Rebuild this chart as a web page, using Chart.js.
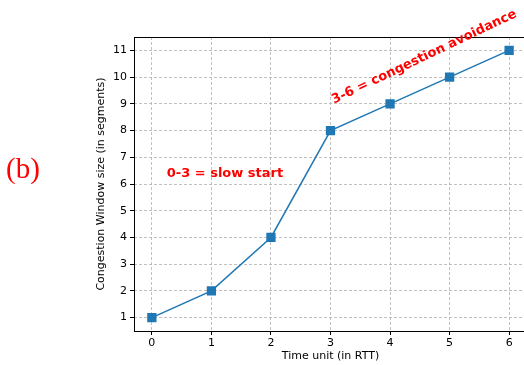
<!DOCTYPE html>
<html>
<head>
<meta charset="utf-8">
<script src="https://cdn.jsdelivr.net/npm/chart.js@4"></script>
<style>
  html { margin: 0; padding: 0; overflow: hidden; width: 524px; height: 365px; }
  body { margin: 0; padding: 0; background: #fff; width: 534px; height: 365px; }
  canvas { display: block; }
</style>
</head>
<body>
<canvas id="cwnd" width="534" height="365"></canvas>
<script>
// time in RTT vs congestion window
const rtt = [0, 1, 2, 3, 4, 5, 6];
const cwnd = [1, 2, 4, 8, 9, 10, 11];
const xTicks = [0, 1, 2, 3, 4, 5, 6];
const yTicks = [1, 2, 3, 4, 5, 6, 7, 8, 9, 10, 11];

const FONT = 'DejaVu Sans';

// red notes + the (b) label, drawn on top of the plot
const notesPlugin = {
    id: 'notes',
    afterDraw(chart) {
        const ctx = chart.ctx;
        const x = chart.scales.x, y = chart.scales.y;
        const a = chart.chartArea;

        // frame
        ctx.save();
        ctx.strokeStyle = '#000';
        ctx.lineWidth = 1;
        ctx.strokeRect(a.left + 0.5, a.top + 0.5, a.right - a.left, a.bottom - a.top);
        ctx.restore();

        ctx.save();
        ctx.fillStyle = '#ff0000';
        ctx.font = 'bold 13px "' + FONT + '"';
        ctx.textBaseline = 'alphabetic';
        ctx.fillText('0-3 = slow start', x.getPixelForValue(0.25), y.getPixelForValue(6.25));

        ctx.translate(x.getPixelForValue(3.06), y.getPixelForValue(9.0));
        ctx.rotate(-25.5 * Math.PI / 180);
        ctx.fillText('3-6 = congestion avoidance', 0, 0);
        ctx.restore();

        ctx.save();
        ctx.fillStyle = '#ff0000';
        ctx.font = '29px "Liberation Serif"';
        ctx.textBaseline = 'middle';
        ctx.fillText('(b)', 6, 170);
        ctx.restore();
    }
};

new Chart(document.getElementById('cwnd'), {
    type: 'line',
    data: {
        labels: rtt,
        datasets: [{
            data: rtt.map((t, i) => ({ x: t, y: cwnd[i] })),
            borderColor: '#1f77b4',
            backgroundColor: '#1f77b4',
            borderWidth: 1.5,
            pointStyle: 'rect',
            pointRadius: 5.5,
            pointHoverRadius: 5.5,
            tension: 0,
            fill: false
        }]
    },
    options: {
        responsive: false,
        animation: false,
        events: [],
        layout: { padding: { left: 0, top: 37, right: 0, bottom: 0 } },
        plugins: { legend: { display: false }, tooltip: { enabled: false } },
        scales: {
            x: {
                type: 'linear',
                min: -0.3,
                max: 6.3,
                afterBuildTicks: s => { s.ticks = xTicks.map(v => ({ value: v })); },
                afterFit: s => { s.height = 34; s.paddingLeft = 0; s.paddingRight = 0; },
                grid: { color: '#b0b0b0', lineWidth: 0.8, tickColor: '#000', tickLength: 4, tickWidth: 1 },
                border: { display: false, dash: [3, 2] },
                ticks: { color: '#000', font: { family: FONT, size: 11 }, padding: 2, maxRotation: 0 },
                title: { display: true, text: 'Time unit (in RTT)', color: '#000', font: { family: FONT, size: 11 }, padding: { top: 0, bottom: 2 } }
            },
            y: {
                min: 0.5,
                max: 11.5,
                afterBuildTicks: s => { s.ticks = yTicks.map(v => ({ value: v })); },
                afterFit: s => { s.width = 134; s.paddingTop = 0; s.paddingBottom = 0; },
                grid: { color: '#b0b0b0', lineWidth: 0.8, tickColor: '#000', tickLength: 4, tickWidth: 1 },
                border: { display: false, dash: [3, 2] },
                ticks: { color: '#000', font: { family: FONT, size: 11 }, padding: 3 },
                title: { display: true, text: 'Congestion Window size (in segments)', color: '#000', font: { family: FONT, size: 11 }, padding: { top: 95, bottom: 0 } }
            }
        }
    },
    plugins: [notesPlugin]
});
</script>
</body>
</html>
